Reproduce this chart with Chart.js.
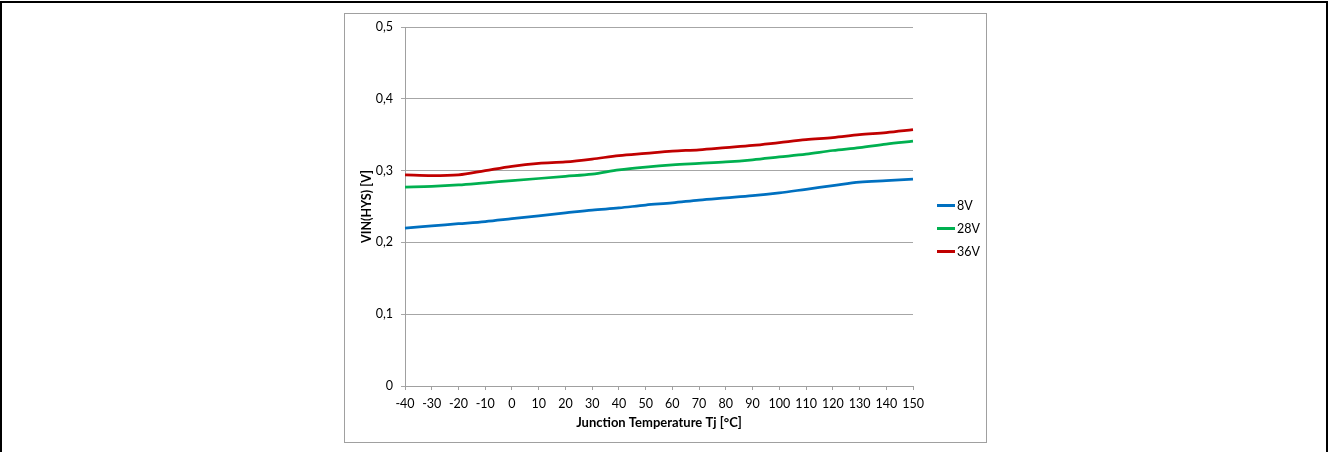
<!DOCTYPE html>
<html lang="en">
<head>
<meta charset="UTF-8">
<title>VIN(HYS) vs Junction Temperature</title>
<script src="https://cdn.jsdelivr.net/npm/chart.js"></script>
<style>
  html, body { margin: 0; padding: 0; background: #fff; overflow: hidden; }
  .frame { position: absolute; left: 0; top: 1px; width: 1328px; height: 470px; border: 2px solid #000; box-sizing: border-box; }
  .box { position: absolute; left: 344px; top: 13px; width: 643px; height: 430px; border: 1px solid #a0a0a0; box-sizing: border-box; background: #fff; }
  #chart { display: block; }
</style>
</head>
<body>
<div class="frame"></div>
<div class="box"><canvas id="chart" width="641" height="428"></canvas></div>

<script>
// junction temperature (°C)
const temps = [-40, -30, -20, -10, 0, 10, 20, 30, 40, 50, 60, 70, 80, 90, 100, 110, 120, 130, 140, 150];

// VIN(HYS) in volts
const v8  = [0.220, 0.223, 0.226, 0.229, 0.233, 0.237, 0.241, 0.245, 0.248, 0.252, 0.255, 0.259, 0.262, 0.265, 0.269, 0.274, 0.279, 0.284, 0.286, 0.288];
const v28 = [0.277, 0.278, 0.280, 0.283, 0.286, 0.289, 0.292, 0.295, 0.301, 0.305, 0.308, 0.310, 0.312, 0.315, 0.319, 0.323, 0.328, 0.332, 0.337, 0.341];
const v36 = [0.294, 0.293, 0.294, 0.300, 0.306, 0.310, 0.312, 0.316, 0.321, 0.324, 0.327, 0.329, 0.332, 0.335, 0.339, 0.343, 0.346, 0.350, 0.353, 0.357];

const seriesNames = ['8V', '28V', '36V'];
const yTickLabels = ['0', '0,1', '0,2', '0,3', '0,4', '0,5'];

const FONT = 'Lato, "Liberation Sans", sans-serif';

// Excel-like legend on the right, vertically centred
const sideLegend = {
  id: 'sideLegend',
  afterDraw(chart) {
    const ctx = chart.ctx;
    const x0 = chart.chartArea.right + 24;
    const n = chart.data.datasets.length;
    const yMid = chart.height / 2;
    ctx.save();
    ctx.font = '12.5px ' + FONT;
    ctx.textBaseline = 'middle';
    chart.data.datasets.forEach((ds, i) => {
      const y = Math.round(yMid + (i - (n - 1) / 2) * 23) + 0.5;
      ctx.strokeStyle = ds.borderColor;
      ctx.lineWidth = 3;
      ctx.beginPath();
      ctx.moveTo(x0, y);
      ctx.lineTo(x0 + 18, y);
      ctx.stroke();
      ctx.fillStyle = '#000';
      ctx.fillText(ds.label, x0 + 20, y);
    });
    ctx.restore();
  }
};

const line = (label, data, color) => ({
  label: label,
  data: data,
  borderColor: color,
  backgroundColor: color,
  borderWidth: 2.75,
  pointRadius: 0,
  cubicInterpolationMode: 'monotone',
  fill: false
});

new Chart(document.getElementById('chart'), {
  type: 'line',
  data: {
    labels: temps,
    datasets: [
      line(seriesNames[0], v8, '#0070c0'),
      line(seriesNames[1], v28, '#00b050'),
      line(seriesNames[2], v36, '#c00000')
    ]
  },
  options: {
    responsive: false,
    animation: false,
    layout: { padding: { left: 0, top: 13, right: 73, bottom: 0 } },
    plugins: {
      legend: { display: false },
      tooltip: { enabled: false }
    },
    scales: {
      x: {
        type: 'category',
        offset: false,
        afterFit: s => { s.height = 56; },
        grid: { display: true, drawOnChartArea: false, drawTicks: true, tickLength: 4, color: '#a0a0a0' },
        border: { display: true, color: '#a0a0a0' },
        ticks: { color: '#000', font: { family: FONT, size: 12.5 }, padding: 6, maxRotation: 0, autoSkip: false },
        title: {
          display: true,
          text: 'Junction Temperature Tj [°C]',
          color: '#000',
          font: { family: FONT, size: 13, weight: 'bold' },
          padding: { top: 0, bottom: 11 }
        }
      },
      y: {
        min: 0,
        max: 0.5,
        afterFit: s => { s.width = 60; s.paddingTop = 0; s.paddingBottom = 0; },
        grid: { color: '#a6a6a6', drawTicks: true, tickLength: 4 },
        border: { display: true, color: '#a0a0a0' },
        ticks: {
          stepSize: 0.1,
          color: '#000',
          padding: 8,
          font: { family: FONT, size: 12.5 },
          callback: (v, i) => yTickLabels[i]
        },
        title: {
          display: true,
          text: 'VIN(HYS) [V]',
          color: '#000',
          font: { family: FONT, size: 12.5, weight: 'bold' },
          padding: { top: 14, bottom: 0 }
        }
      }
    }
  },
  plugins: [sideLegend]
});
</script>
</body>
</html>
